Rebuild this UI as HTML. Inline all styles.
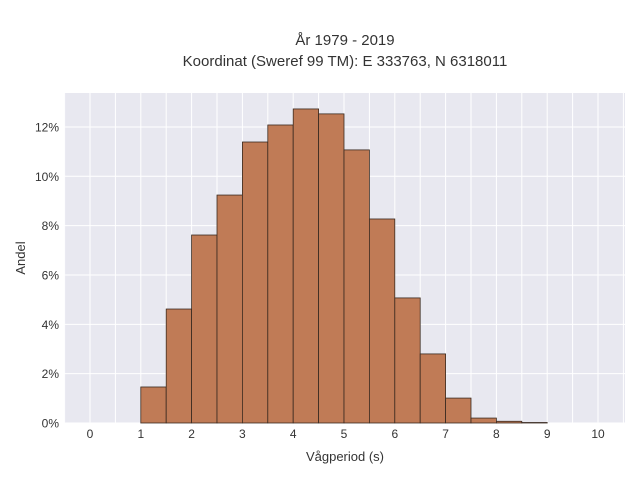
<!DOCTYPE html>
<html><head><meta charset="utf-8"><style>
body{margin:0;background:#fff;}
svg{display:block;font-family:"Liberation Sans",sans-serif;}
</style></head><body>
<svg id="chart" width="640" height="480">
<text x="345" y="45" text-anchor="middle" font-size="15" fill="#333">År 1979 - 2019</text>
<text x="345" y="66" text-anchor="middle" font-size="15" fill="#333">Koordinat (Sweref 99 TM): E 333763, N 6318011</text>
<rect x="64" y="93" width="561" height="330" fill="#e8e8f0"/>
<g id="grid"></g><g id="bars"></g><g id="ticks"></g>
<text x="345" y="461" text-anchor="middle" font-size="13" fill="#333">Vågperiod (s)</text>
<text x="25" y="258" text-anchor="middle" font-size="13" fill="#333" transform="rotate(-90 25 258)">Andel</text>
</svg>
<script>
const binStarts=[1,1.5,2,2.5,3,3.5,4,4.5,5,5.5,6,6.5,7,7.5,8,8.5];
const shares=[1.46,4.62,7.62,9.24,11.39,12.08,12.73,12.53,11.07,8.27,5.07,2.8,1.01,0.2,0.07,0.02];
const xTicks=[0,1,2,3,4,5,6,7,8,9,10];
const yTicks=[0,2,4,6,8,10,12];
const binWidth=0.5;
const NS="http://www.w3.org/2000/svg";
const xs=v=>90+v*50.8;
const ys=v=>423-v*24.67;
function mk(tag,attrs,parent){const e=document.createElementNS(NS,tag);for(const k in attrs)e.setAttribute(k,attrs[k]);parent.appendChild(e);return e;}
const grid=document.getElementById('grid'),bars=document.getElementById('bars'),ticks=document.getElementById('ticks');
for(let v=-0.5;v<=10.5;v+=0.5){const x=xs(v);if(x<64||x>625)continue;
 const l=mk('line',{x1:x,x2:x,y1:93,y2:423,stroke:'#fff','stroke-width':1},grid);
 
 }
yTicks.forEach(v=>{const y=ys(v);
 const l=mk('line',{x1:64,x2:625,y1:y,y2:y,stroke:'#fff','stroke-width':1},grid);
 
 
 const t=mk('text',{x:59,y:y+4.5,'text-anchor':'end','font-size':12,fill:'#333'},ticks);t.textContent=v+'%';
 
 });
xTicks.forEach(v=>{
 const t=mk('text',{x:xs(v),y:438,'text-anchor':'middle','font-size':12,fill:'#333'},ticks);t.textContent=v;
 
 });
binStarts.forEach((b,i)=>{const x0=xs(b),x1=xs(b+binWidth),y=ys(shares[i]);
 const r=mk('rect',{x:x0,y:y,width:x1-x0,height:423-y,fill:'#c07b56',stroke:'#3a2a20','stroke-width':0.8},bars);
 
 });
</script>
</body></html>
